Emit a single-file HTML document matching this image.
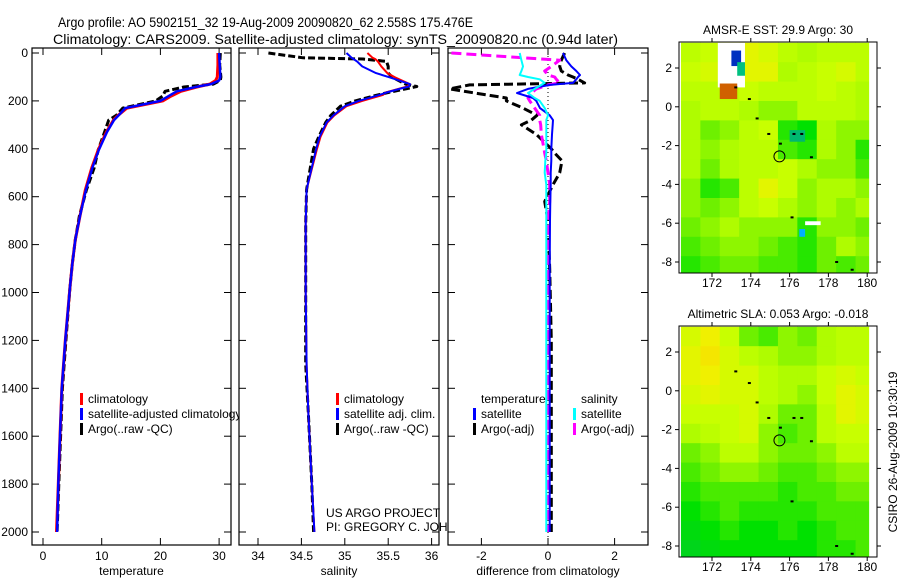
<!DOCTYPE html>
<html><head><meta charset="utf-8"><style>
html,body{margin:0;padding:0;background:#fff;}
svg{display:block;font-family:"Liberation Sans",sans-serif;}
text{fill:#000;}
</style></head><body>
<svg id="fig" width="900" height="580" viewBox="0 0 900 580" xmlns="http://www.w3.org/2000/svg">
<text x="58" y="27" font-size="14" textLength="415" lengthAdjust="spacingAndGlyphs">Argo profile: AO 5902151_32 19-Aug-2009 20090820_62 2.558S 175.476E</text>
<text x="53" y="44" font-size="14" textLength="565" lengthAdjust="spacingAndGlyphs">Climatology: CARS2009. Satellite-adjusted climatology: synTS_20090820.nc (0.94d later)</text>
<g id="layer"></g>
</svg>
<script>
// ---- depth grid ----
const depthsT = [0,50,100,115,130,142,160,180,200,230,260,280,330,405,480,572,680,780,880,977,1200,1400,1600,1800,2000];
const climT   = [29.8,29.8,29.7,29.4,28.4,26.2,23.5,21.8,20.4,14.3,12.8,12.0,10.8,9.4,8.3,7.2,6.3,5.5,5.0,4.6,3.8,3.2,2.9,2.6,2.3];
const satT    = [30.0,30.1,30.2,30.0,28.6,26.0,22.8,21.4,20.0,14.0,12.9,12.1,10.9,9.5,8.4,7.3,6.3,5.5,5.0,4.6,3.8,3.2,2.9,2.6,2.4];
const argoT   = [30.2,30.1,30.3,30.2,29.0,24.0,20.8,20.4,19.2,13.6,12.5,11.2,10.5,9.4,8.7,7.4,6.2,5.5,5.0,4.6,3.9,3.3,3.0,2.7,2.4];
const depthsS = [0,20,25,35,56,84,102,130,140,150,165,175,200,222,260,290,350,400,570,710,1000,1300,1500,1800,2000];
const climS   = [35.26,35.32,35.35,35.38,35.42,35.49,35.58,35.75,35.72,35.62,35.47,35.44,35.2,35.02,34.88,34.8,34.72,34.68,34.56,34.55,34.55,34.56,34.58,34.62,34.65];
const satS    = [35.02,35.08,35.1,35.14,35.2,35.36,35.52,35.75,35.74,35.63,35.48,35.4,35.16,35.0,34.87,34.79,34.71,34.67,34.56,34.55,34.55,34.56,34.58,34.62,34.65];
const argoS   = [34.12,34.52,35.21,35.48,35.5,35.5,35.55,35.7,35.83,35.7,35.5,35.38,35.12,34.95,34.84,34.78,34.7,34.64,34.56,34.55,34.55,34.55,34.58,34.62,34.64];
const depthsD = [0,30,56,75,92,100,110,125,133,150,167,188,200,230,260,280,300,340,400,418,450,500,550,620,700,900,1200,1500,2000];
const diffTsat  = [0.45,0.55,0.7,0.85,0.96,0.9,0.85,0.75,0.06,-0.6,-0.93,-0.45,-0.35,-0.24,0.05,0.15,0.14,0.12,0.1,0.1,0.1,0.08,0.08,0.07,0.06,0.05,0.05,0.05,0.05];
const diffTargo = [0.5,0.4,0.35,0.4,0.6,0.75,0.9,1.1,-2.35,-2.95,-2.2,-1.25,-1.25,-0.75,-0.33,-0.5,-0.8,-0.35,0.1,0.2,0.42,0.35,0.15,-0.1,0.0,0.05,0.1,0.1,0.1];
const diffSsat  = [-0.85,-0.8,-0.75,-0.8,-0.85,-0.6,-0.25,-0.1,-0.2,-0.4,-0.6,-0.4,-0.25,-0.1,0.0,-0.05,-0.05,-0.05,-0.05,-0.05,-0.08,-0.1,-0.05,-0.05,-0.05,-0.05,-0.05,-0.05,-0.05];
const diffSargo = [-2.9,0.35,0.1,-0.1,0.0,0.2,0.25,0.35,0.0,-0.35,-0.5,-0.6,-0.55,-0.4,-0.25,-0.25,-0.22,-0.2,-0.12,-0.1,-0.05,0.0,0.05,0.05,0.0,0.0,0.0,0.0,0.0];
const depthTicks = [0,200,400,600,800,1000,1200,1400,1600,1800,2000];
const tTicks = [0,10,20,30];
const sTicks = [34,34.5,35,35.5,36];
const dTicks = [-2,0,2];
const lonTicks = [172,174,176,178,180];
const latTicks = [2,0,-2,-4,-6,-8];
const sstGrid = [
[.6,.65,.75,.75,.7,.6,.55,.6,.6,.6],
[.65,.7,.8,.75,.75,.55,.6,.65,.7,.6],
[.6,.6,.6,.65,.6,.6,.6,.65,.6,.55],
[.55,.6,.6,.55,.5,.5,.6,.6,.6,.55],
[.55,.45,.5,.6,.65,.35,.3,.55,.5,.5],
[.55,.5,.55,.6,.6,.4,.35,.55,.5,.35],
[.55,.45,.55,.6,.6,.65,.55,.5,.5,.4],
[.5,.35,.4,.6,.75,.65,.5,.55,.55,.5],
[.5,.45,.5,.6,.65,.55,.5,.55,.5,.55],
[.45,.5,.55,.5,.5,.5,.35,.5,.5,.45],
[.4,.45,.5,.5,.45,.4,.35,.45,.55,.5],
[.35,.4,.45,.45,.4,.4,.35,.45,.4,.45]];
const slaGrid = [
[.7,.8,.65,.45,.4,.5,.45,.55,.6,.6],
[.75,.85,.7,.6,.55,.5,.5,.55,.6,.6],
[.75,.8,.7,.7,.6,.55,.55,.65,.7,.65],
[.7,.75,.7,.7,.6,.55,.5,.65,.75,.7],
[.65,.65,.65,.7,.55,.45,.45,.6,.75,.7],
[.55,.6,.65,.7,.5,.4,.45,.6,.65,.65],
[.45,.5,.6,.6,.5,.45,.45,.5,.6,.6],
[.4,.45,.5,.5,.45,.4,.4,.45,.5,.5],
[.35,.4,.4,.4,.4,.35,.4,.4,.45,.45],
[.3,.35,.4,.35,.35,.35,.35,.4,.4,.4],
[.25,.3,.35,.3,.3,.35,.3,.35,.4,.4],
[.2,.25,.3,.3,.3,.3,.3,.35,.35,.4]];
const sstPatchLon0 = [172.3,173.0,173.3,172.4,176.8,176.0,176.5];
const sstPatchLon1 = [173.7,173.5,173.7,173.3,177.6,176.8,176.8];
const sstPatchLatT = [3.3,2.9,2.3,1.2,-5.9,-1.2,-6.3];
const sstPatchLatB = [1.0,2.1,1.6,0.4,-6.1,-1.8,-6.7];
const sstPatchCol  = ["#ffffff","#0030c0","#00c080","#d06000","#ffffff","#00b870","#00b0ff"];
const floatLon = 175.476, floatLat = -2.558;
const islandLon = [173.2,173.9,174.3,174.9,175.5,176.2,176.6,177.1,176.1,178.4,179.2];
const islandLat = [1.0,0.4,-0.6,-1.4,-1.9,-1.4,-1.4,-2.6,-5.7,-8.0,-8.4];

const NS='http://www.w3.org/2000/svg';
const layer=document.getElementById('layer');
function mk(tag,attrs,parent){const e=document.createElementNS(NS,tag);for(const k in attrs)e.setAttribute(k,attrs[k]);(parent||layer).appendChild(e);return e;}
function txt(x,y,s,size,anchor,parent){const t=mk('text',{x:x,y:y,'font-size':size,'text-anchor':anchor||'start'},parent);t.textContent=s;return t;}

const Y0=53, YS=0.2395, TOP=48, BOT=545;
const yD=z=>Y0+z*YS;
const xT=v=>43+v*5.87;
const xS=v=>258+(v-34)*86.8;
const xDf=v=>548+v*33.3;

function panel(name,x0,x1,xf,ticks,label,leftLabels){
  const g=mk('g',{});
  
  
  const r=mk('rect',{x:x0,y:TOP,width:x1-x0,height:BOT-TOP,fill:'#fff',stroke:'#000','stroke-width':1.2},g);
  
  
  depthTicks.forEach(d=>{
    mk('line',{x1:x0,x2:x0+7,y1:yD(d),y2:yD(d),stroke:'#000'},g);
    mk('line',{x1:x1-7,x2:x1,y1:yD(d),y2:yD(d),stroke:'#000'},g);
    if(leftLabels){const t=txt(28,yD(d)+4,String(d),12,'end',g);
      
      }
  });
  ticks.forEach(v=>{const x=xf(v);
    mk('line',{x1:x,x2:x,y1:BOT,y2:BOT-7,stroke:'#000'},g);
    mk('line',{x1:x,x2:x,y1:TOP,y2:TOP+7,stroke:'#000'},g);
    const t=txt(x,560,String(v),12,'middle',g);
    
    
  });
  const l=txt((x0+x1)/2,575,label,12,'middle',g);
  
  
  return g;
}
function line(g,name,xs,ds,xf,color,w,dash){
  const pts=xs.map((v,i)=>xf(v).toFixed(1)+','+yD(ds[i]).toFixed(1)).join(' ');
  const p=mk('polyline',{points:pts,fill:'none',stroke:color,'stroke-width':w,'stroke-linejoin':'round'},g);
  if(dash)p.setAttribute('stroke-dasharray',dash);
  
  
}
function legend(g,x,y,items){
  items.forEach((it,i)=>{
    const yy=y+i*15;
    if(it[1]){const r=mk('rect',{x:x,y:yy-10,width:3,height:12,fill:it[1]},g);
      
      }
    const t=txt(x+8,yy,it[0],12,'start',g);
    
    
  });
}

const g1=panel('temperature-panel',32,231,xT,tTicks,'temperature',true);
line(g1,'argo-temperature-line',argoT,depthsT,xT,'#000',3,'7,3');
line(g1,'climatology-temperature-line',climT,depthsT,xT,'#f00',3);
line(g1,'satellite-temperature-line',satT,depthsT,xT,'#00f',2.5);
legend(g1,80,403,[['climatology','#f00'],['satellite-adjusted climatology','#00f'],['Argo(..raw -QC)','#000']]);

const g2=panel('salinity-panel',239,439,xS,sTicks,'salinity',false);
line(g2,'argo-salinity-line',argoS,depthsS,xS,'#000',3,'7,3');
line(g2,'climatology-salinity-line',climS,depthsS,xS,'#f00',2);
line(g2,'satellite-salinity-line',satS,depthsS,xS,'#00f',2);
legend(g2,336,403,[['climatology','#f00'],['satellite adj. clim.','#00f'],['Argo(..raw -QC)','#000']]);
const c1=txt(326,517,'US ARGO PROJECT',12,'start',g2);


const c2=txt(326,531,'PI: GREGORY C. JOHNSON',12,'start',g2);



const g3=panel('difference-panel',448,648,xDf,dTicks,'difference from climatology',false);
const zl=mk('line',{x1:xDf(0),x2:xDf(0),y1:TOP,y2:BOT,stroke:'#000','stroke-dasharray':'1,3'},g3);


line(g3,'temperature-argo-diff-line',diffTargo,depthsD,xDf,'#000',3,'9,4');
line(g3,'salinity-argo-diff-line',diffSargo,depthsD,xDf,'#f0f',3,'10,5');
line(g3,'temperature-satellite-diff-line',diffTsat,depthsD,xDf,'#00f',2);
line(g3,'salinity-satellite-diff-line',diffSsat,depthsD,xDf,'#0ff',2);
legend(g3,473,403,[['temperature',null],['satellite','#00f'],['Argo(-adj)','#000']]);
legend(g3,573,403,[['salinity',null],['satellite','#0ff'],['Argo(-adj)','#f0f']]);

function cmap(v){
  const stops=[[0,[0,190,80]],[0.3,[0,225,0]],[0.45,[110,240,0]],[0.55,[175,252,0]],[0.65,[200,255,0]],[0.8,[240,240,0]],[1,[255,200,0]]];
  for(let i=1;i<stops.length;i++){if(v<=stops[i][0]){const a=stops[i-1],b=stops[i],t=(v-a[0])/(b[0]-a[0]);
    return 'rgb('+a[1].map((c,k)=>Math.round(c+(b[1][k]-c)*t)).join(',')+')';}}
  return 'rgb(255,200,0)';
}
function map(name,top,title,grid,patches){
  const bot=top+231, x0=679, x1=877;
  const lonX=l=>712+(l-172)*19.4;
  const latY=l=>top+26+(2-l)*19.4;
  const g=mk('g',{});
  
  
  const clip=mk('clipPath',{id:name+'-clip'},g);
  mk('rect',{x:x0,y:top,width:x1-x0,height:bot-top},clip);
  const cg=mk('g',{'clip-path':'url(#'+name+'-clip)'},g);
  grid.forEach((row,r)=>row.forEach((v,c)=>{
    const lo=170.4+c, la=3.3-r;
    const rc=mk('rect',{x:lonX(lo),y:latY(la),width:19.9,height:19.9,fill:cmap(v)},cg);
    
    
  }));
  if(patches){patches.l0.forEach((l0,i)=>{
    const rc=mk('rect',{x:lonX(l0),y:latY(patches.t[i]),width:lonX(patches.l1[i])-lonX(l0),height:latY(patches.b[i])-latY(patches.t[i]),fill:patches.c[i]},cg);
    
    
  });}
  const ws=mk('rect',{x:lonX(180.1),y:top,width:x1-lonX(180.1),height:bot-top,fill:'#fff'},cg);
  
  
  islandLon.forEach((lo,i)=>{const d=mk('rect',{x:lonX(lo)-1,y:latY(islandLat[i])-1,width:3,height:2,fill:'#000'},cg);
    
    });
  const fc=mk('circle',{cx:lonX(floatLon),cy:latY(floatLat),r:5.5,fill:'none',stroke:'#000','stroke-width':1},cg);
  
  
  const fr=mk('rect',{x:x0,y:top,width:x1-x0,height:bot-top,fill:'none',stroke:'#000'},g);
  
  
  lonTicks.forEach(l=>{const x=lonX(l);
    mk('line',{x1:x,x2:x,y1:bot,y2:bot+4,stroke:'#000'},g);
    mk('line',{x1:x,x2:x,y1:top,y2:top-4,stroke:'#000'},g);
    const t=txt(x,bot+14,String(l),12,'middle',g);
    
    });
  latTicks.forEach(l=>{const y=latY(l);
    mk('line',{x1:x0-4,x2:x0,y1:y,y2:y,stroke:'#000'},g);
    mk('line',{x1:x1,x2:x1+4,y1:y,y2:y,stroke:'#000'},g);
    const t=txt(672,y+4,String(l),12,'end',g);
    
    });
  const tt=txt(778,top-8,title,12,'middle',g);
  
  
}
map('sst-map',42,'AMSR-E SST: 29.9 Argo: 30',sstGrid,{l0:sstPatchLon0,l1:sstPatchLon1,t:sstPatchLatT,b:sstPatchLatB,c:sstPatchCol});
map('sla-map',326,'Altimetric SLA: 0.053 Argo: -0.018',slaGrid,null);
const st=txt(0,0,'CSIRO 26-Aug-2009 10:30:19',12,'middle');
st.setAttribute('transform','translate(897,452) rotate(-90)');


</script>
</body></html>
